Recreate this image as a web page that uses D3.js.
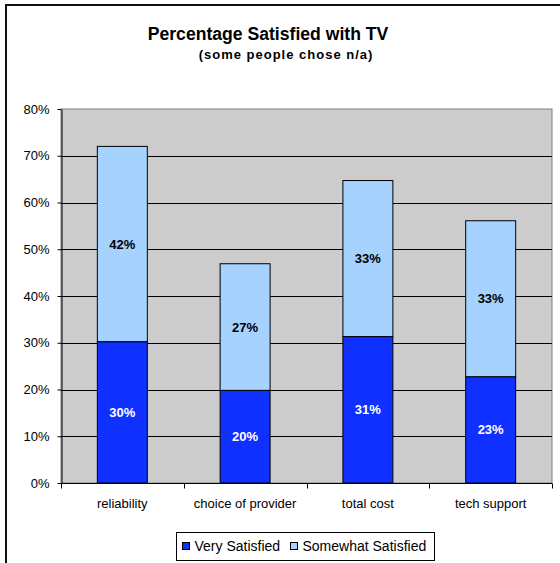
<!DOCTYPE html>
<html><head><meta charset="utf-8">
<script src="https://cdn.jsdelivr.net/npm/d3@7"></script>
<style>body{margin:0;background:#fff}svg{display:block;font-family:Arial,"Liberation Sans",sans-serif}</style>
</head><body>
<svg id="c" width="560" height="563"></svg>
<script>
const categories = ["reliability", "choice of provider", "total cost", "tech support"];
const verySatisfied = [30.2, 19.8, 31.3, 22.7];
const somewhatSatisfied = [41.8, 27.1, 33.4, 33.4];
const veryLabels = ["30%", "20%", "31%", "23%"];
const somewhatLabels = ["42%", "27%", "33%", "33%"];
const yTicks = [0, 10, 20, 30, 40, 50, 60, 70, 80];
const seriesNames = ["Very Satisfied", "Somewhat Satisfied"];
const colors = ["#1030FF", "#A6D2FF"];

const svg = d3.select("#c");
// outer border (top & left visible)
svg.append("line").attr("x1",6).attr("x2",560).attr("y1",5).attr("y2",5).attr("stroke","#111").attr("stroke-width",2);
svg.append("line").attr("x1",6).attr("x2",6).attr("y1",4).attr("y2",563).attr("stroke","#111").attr("stroke-width",2);

svg.append("text").attr("x",268).attr("y",40).attr("text-anchor","middle").attr("font-size",17.6).attr("font-weight","bold").text("Percentage Satisfied with TV");
svg.append("text").attr("x",286).attr("y",58.5).attr("text-anchor","middle").attr("font-size",13).attr("letter-spacing",1).attr("font-weight","bold").text("(some people chose n/a)");

const L=61, R=552, T=109, B=483;
const x = d3.scaleBand().domain(categories).range([L,R]).paddingInner(0.593).paddingOuter(0.296);
const y = d3.scaleLinear().domain([0,80]).range([B,T]);

svg.append("rect").attr("x",L).attr("y",T).attr("width",R-L).attr("height",B-T).attr("fill","#CCCCCC").attr("stroke","#808080").attr("stroke-width",1);
// gridlines
svg.append("g").selectAll("line").data(yTicks.filter(d=>d>0 && d<80)).join("line")
  .attr("x1",L).attr("x2",R).attr("y1",d=>Math.round(y(d))+0.5).attr("y2",d=>Math.round(y(d))+0.5).attr("stroke","#000");

const stack = categories.map((c,i)=>({c, v:verySatisfied[i], s:somewhatSatisfied[i], vl:veryLabels[i], sl:somewhatLabels[i]}));
const g = svg.append("g");
g.selectAll("rect.s").data(stack).join("rect").attr("class","s")
  .attr("x",d=>x(d.c)).attr("width",x.bandwidth()).attr("y",d=>y(d.v+d.s)).attr("height",d=>y(d.v)-y(d.v+d.s))
  .attr("fill",colors[1]).attr("stroke","#000").attr("stroke-width",1);
g.selectAll("rect.v").data(stack).join("rect").attr("class","v")
  .attr("x",d=>x(d.c)).attr("width",x.bandwidth()).attr("y",d=>y(d.v)).attr("height",d=>y(0)-y(d.v))
  .attr("fill",colors[0]).attr("stroke","#000").attr("stroke-width",1);
g.selectAll("text.v").data(stack).join("text").attr("class","v")
  .attr("x",d=>x(d.c)+x.bandwidth()/2).attr("y",d=>y(d.v/2)+4.5).attr("text-anchor","middle")
  .attr("font-size",13).attr("font-weight","bold").attr("fill","#fff").text(d=>d.vl);
g.selectAll("text.s").data(stack).join("text").attr("class","s")
  .attr("x",d=>x(d.c)+x.bandwidth()/2).attr("y",d=>y(d.v+d.s/2)+4.5).attr("text-anchor","middle")
  .attr("font-size",13).attr("font-weight","bold").attr("fill","#000").text(d=>d.sl);

// y axis
const ya = svg.append("g").attr("transform",`translate(${L+0.5},0)`)
  .call(d3.axisLeft(y).tickValues(yTicks).tickFormat(d=>d+"%").tickSize(4).tickSizeOuter(0));
ya.select(".domain").attr("stroke","#000");
ya.selectAll("text").attr("font-size",13).attr("fill","#000").attr("font-family","Arial,'Liberation Sans',sans-serif").attr("dx",-5);
// x axis
const xa = svg.append("g").attr("transform",`translate(0,${B+0.5})`);
xa.append("line").attr("x1",L).attr("x2",R).attr("stroke","#000");
xa.selectAll("line.t").data(d3.range(categories.length+1)).join("line").attr("class","t")
  .attr("x1",i=>Math.round(L+i*(R-L)/categories.length)+0.5).attr("x2",i=>Math.round(L+i*(R-L)/categories.length)+0.5)
  .attr("y1",0).attr("y2",5).attr("stroke","#000");
xa.selectAll("text").data(categories).join("text")
  .attr("x",d=>x(d)+x.bandwidth()/2).attr("y",24).attr("text-anchor","middle").attr("font-size",13).text(d=>d);

// legend
const lg = svg.append("g");
lg.append("rect").attr("x",176.5).attr("y",532.5).attr("width",258).attr("height",28).attr("fill","#fff").attr("stroke","#000");
const items = [{n:seriesNames[0],c:colors[0],x:182},{n:seriesNames[1],c:colors[1],x:290}];
lg.selectAll("rect.k").data(items).join("rect").attr("class","k")
  .attr("x",d=>d.x+0.5).attr("y",542.5).attr("width",7).attr("height",7).attr("fill",d=>d.c).attr("stroke","#000");
lg.selectAll("text").data(items).join("text").attr("x",d=>d.x+12.5).attr("y",551).attr("font-size",14).text(d=>d.n);
</script>
</body></html>
